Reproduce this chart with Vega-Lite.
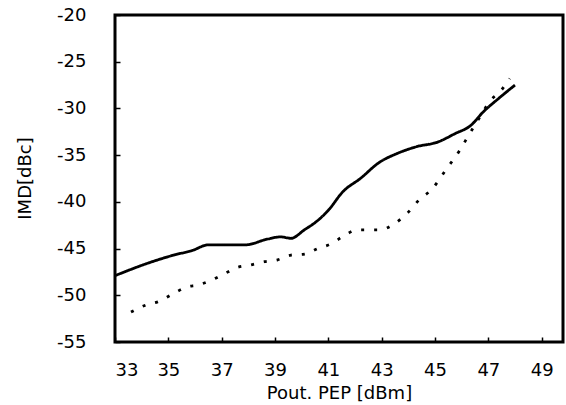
{
  "$schema": "https://vega.github.io/schema/vega-lite/v6.json",
  "width": 448,
  "height": 327,
  "autosize": {"type": "none"},
  "padding": {"left": 115, "top": 15, "right": 3, "bottom": 63},
  "background": "white",
  "config": {
    "view": {"stroke": "black", "strokeWidth": 3},
    "axis": {
      "domain": false,
      "grid": false,
      "labelFont": "DejaVu Sans",
      "labelFontSize": 18,
      "labelColor": "black",
      "titleFont": "DejaVu Sans",
      "titleFontSize": 18,
      "titleFontWeight": "normal",
      "titleColor": "black",
      "tickColor": "black",
      "tickWidth": 1.5,
      "tickSize": -5
    }
  },
  "data": {
    "values": [
      {"x": 33.0, "y": -47.9, "s": "A"},
      {"x": 34.4, "y": -46.4, "s": "A"},
      {"x": 35.2, "y": -45.7, "s": "A"},
      {"x": 35.9, "y": -45.2, "s": "A"},
      {"x": 36.5, "y": -44.6, "s": "A"},
      {"x": 37.9, "y": -44.6, "s": "A"},
      {"x": 38.7, "y": -44.0, "s": "A"},
      {"x": 39.2, "y": -43.75, "s": "A"},
      {"x": 39.6, "y": -43.9, "s": "A"},
      {"x": 40.1, "y": -43.0, "s": "A"},
      {"x": 40.6, "y": -42.0, "s": "A"},
      {"x": 41.0, "y": -40.9, "s": "A"},
      {"x": 41.55, "y": -38.9, "s": "A"},
      {"x": 42.2, "y": -37.5, "s": "A"},
      {"x": 42.9, "y": -35.8, "s": "A"},
      {"x": 43.6, "y": -34.8, "s": "A"},
      {"x": 44.3, "y": -34.1, "s": "A"},
      {"x": 45.1, "y": -33.6, "s": "A"},
      {"x": 45.75, "y": -32.7, "s": "A"},
      {"x": 46.35, "y": -31.8, "s": "A"},
      {"x": 46.8, "y": -30.4, "s": "A"},
      {"x": 47.4, "y": -28.9, "s": "A"},
      {"x": 48.0, "y": -27.5, "s": "A"},
      {"x": 33.6, "y": -51.8, "s": "B"},
      {"x": 34.2, "y": -51.0, "s": "B"},
      {"x": 34.6, "y": -50.7, "s": "B"},
      {"x": 35.2, "y": -49.8, "s": "B"},
      {"x": 35.7, "y": -49.1, "s": "B"},
      {"x": 36.1, "y": -48.9, "s": "B"},
      {"x": 36.6, "y": -48.4, "s": "B"},
      {"x": 37.1, "y": -47.7, "s": "B"},
      {"x": 37.6, "y": -47.0, "s": "B"},
      {"x": 38.0, "y": -46.8, "s": "B"},
      {"x": 38.6, "y": -46.4, "s": "B"},
      {"x": 39.1, "y": -46.2, "s": "B"},
      {"x": 39.6, "y": -45.7, "s": "B"},
      {"x": 40.1, "y": -45.6, "s": "B"},
      {"x": 40.6, "y": -45.0, "s": "B"},
      {"x": 41.1, "y": -44.5, "s": "B"},
      {"x": 41.6, "y": -43.6, "s": "B"},
      {"x": 42.1, "y": -43.0, "s": "B"},
      {"x": 42.5, "y": -43.0, "s": "B"},
      {"x": 42.9, "y": -43.0, "s": "B"},
      {"x": 43.5, "y": -42.3, "s": "B"},
      {"x": 44.0, "y": -41.1, "s": "B"},
      {"x": 44.4, "y": -39.8, "s": "B"},
      {"x": 44.9, "y": -38.6, "s": "B"},
      {"x": 45.4, "y": -36.6, "s": "B"},
      {"x": 45.9, "y": -34.6, "s": "B"},
      {"x": 46.3, "y": -32.7, "s": "B"},
      {"x": 46.6, "y": -31.3, "s": "B"},
      {"x": 47.1, "y": -29.1, "s": "B"},
      {"x": 47.5, "y": -28.0, "s": "B"},
      {"x": 47.8, "y": -26.8, "s": "B"}
    ]
  },
  "mark": {"type": "line", "interpolate": "monotone", "strokeWidth": 2.8, "color": "black", "strokeCap": "butt", "clip": true},
  "encoding": {
    "x": {
      "field": "x", "type": "quantitative",
      "scale": {"domain": [33, 49.8], "nice": false, "zero": false},
      "axis": {
        "values": [33, 35, 37, 39, 41, 43, 45, 47, 49],
        "title": "Pout. PEP [dBm]",
        "labelPadding": 24,
        "titleX": 224,
        "titleY": 56,
        "titleBaseline": "alphabetic"
      }
    },
    "y": {
      "field": "y", "type": "quantitative",
      "scale": {"domain": [-55, -20], "nice": false, "zero": false},
      "axis": {
        "values": [-55, -50, -45, -40, -35, -30, -25, -20],
        "labelExpr": "replace(datum.label, '\u2212', '-')",
        "title": "IMD[dBc]",
        "labelPadding": 34,
        "titleX": -90,
        "titleY": 163,
        "titleAngle": -90,
        "titleBaseline": "middle",
        "titleAlign": "center"
      }
    },
    "detail": {"field": "s"},
    "strokeDash": {
      "field": "s", "type": "nominal",
      "scale": {"domain": ["A", "B"], "range": [[1, 0], [3, 10]]},
      "legend": null
    }
  }
}
